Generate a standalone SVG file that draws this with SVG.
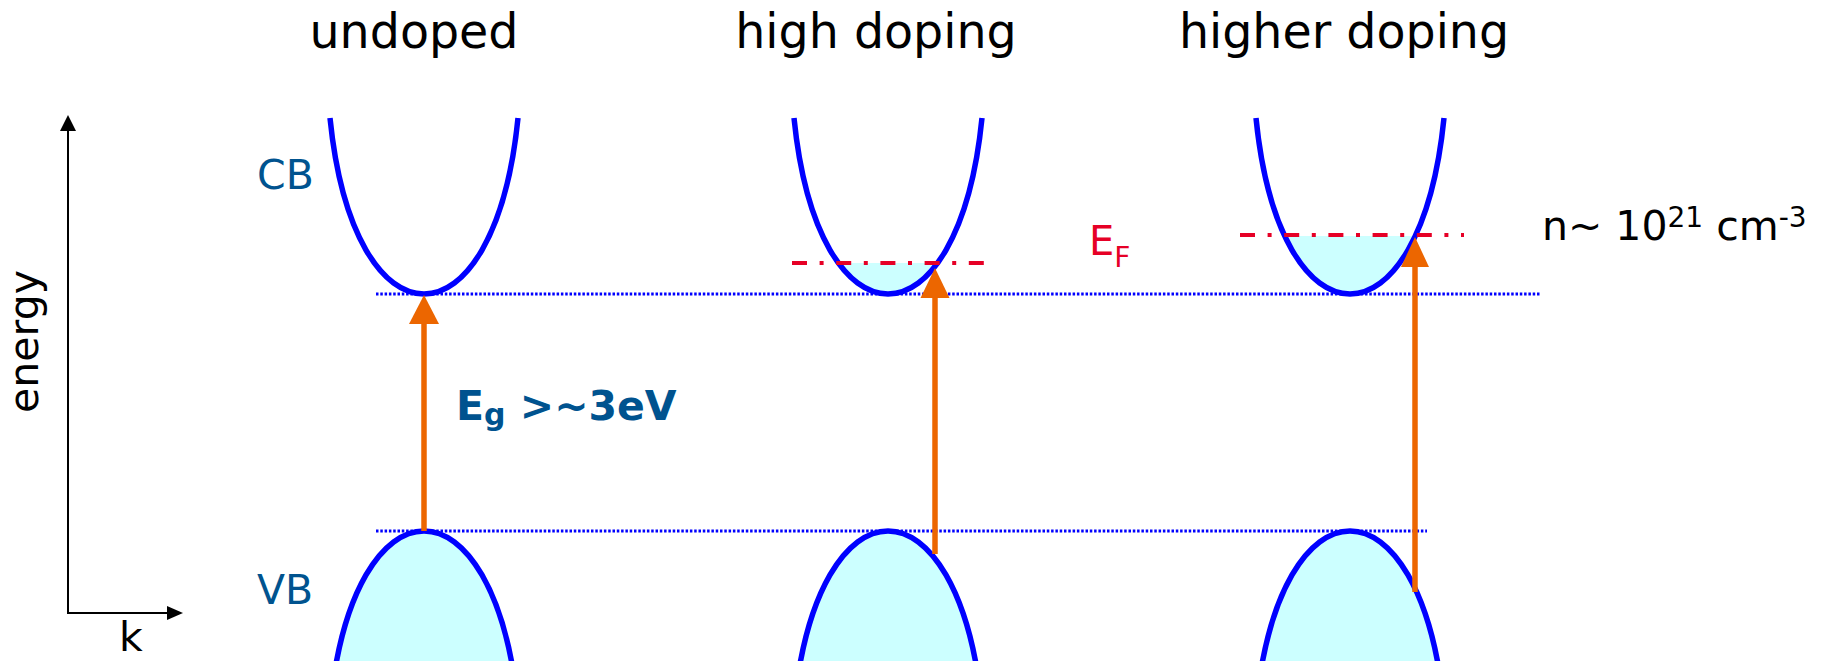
<svg xmlns="http://www.w3.org/2000/svg" width="1828" height="661" viewBox="0 0 1828 661">
<style>
text{font-family:"DejaVu Sans","Liberation Sans",sans-serif}
.title{font-size:47.5px;fill:#000;text-anchor:middle}
.lab{font-size:41px;fill:#00538F}
.band{fill:none;stroke:#0000FF;stroke-width:5.5}
.vb{fill:#CCFFFF;stroke:#0000FF;stroke-width:5.5}
.fill{fill:#CCFFFF;stroke:none}
.ref{stroke:#0000FF;stroke-width:3;stroke-dasharray:2.5 1.8;fill:none}
.ef{stroke:#E60026;stroke-width:4;stroke-dasharray:15 12.6 4 12.6;fill:none}
.arr{stroke:#EC6600;stroke-width:5.5;fill:none}
.head{fill:#EC6600}
.axis{stroke:#000;stroke-width:2;fill:none}
</style>
<defs>
<clipPath id="c2"><rect x="700" y="263" width="400" height="60"/></clipPath>
<clipPath id="c3"><rect x="1150" y="236" width="400" height="90"/></clipPath>
</defs>
<rect width="1828" height="661" fill="#fff"/>

<g id="axes">
<line class="axis" x1="68" y1="613" x2="68" y2="130"/>
<polygon points="68,115 60,131 76,131" fill="#000"/>
<line class="axis" x1="67" y1="613" x2="168" y2="613"/>
<polygon points="183,613 167,606 167,620" fill="#000"/>
<text x="37.5" y="341.5" font-size="41" text-anchor="middle" transform="rotate(-90 37.5 341.5)">energy</text>
<text x="119" y="651" font-size="41">k</text>
</g>

<g id="levels">
<line class="ref" x1="376" y1="294" x2="1540" y2="294"/>
<line class="ref" x1="376" y1="531" x2="1427" y2="531"/>
</g>

<g id="titles">
<text class="title" x="414" y="48">undoped</text>
<text class="title" x="876" y="48">high doping</text>
<text class="title" x="1344" y="48">higher doping</text>
</g>

<g id="undoped">
<path class="band" d="M330 118 C353.6 352.7 494.4 352.7 518 118"/>
<path class="vb" d="M330 707 C353.6 472.3 494.4 472.3 518 707Z"/>
<text class="lab" x="257" y="189">CB</text>
<text class="lab" x="257" y="604">VB</text>
</g>

<g id="high-doping">
<path class="fill" clip-path="url(#c2)" d="M794 118 C817.6 352.7 958.4 352.7 982 118Z"/>
<path class="band" d="M794 118 C817.6 352.7 958.4 352.7 982 118"/>
<path class="vb" d="M794 707 C817.6 472.3 958.4 472.3 982 707Z"/>
<line class="ef" x1="792" y1="263" x2="985" y2="263"/>
<text x="1089" y="255" font-size="40" fill="#E60026">E<tspan font-size="28" dy="11.7">F</tspan></text>
</g>

<g id="higher-doping">
<path class="fill" clip-path="url(#c3)" d="M1256 118 C1279.6 352.7 1420.4 352.7 1444 118Z"/>
<path class="band" d="M1256 118 C1279.6 352.7 1420.4 352.7 1444 118"/>
<path class="vb" d="M1256 707 C1279.6 472.3 1420.4 472.3 1444 707Z"/>
<line class="ef" x1="1240" y1="235" x2="1464" y2="235"/>
<text x="1542" y="240" font-size="41" fill="#000">n~ 10<tspan font-size="28" dy="-12.6">21</tspan><tspan dy="12.6"> cm</tspan><tspan font-size="28" dy="-12.6">-3</tspan></text>
</g>

<g id="connectors">
<line class="arr" x1="424" y1="531" x2="424" y2="322"/>
<polygon class="head" points="424,295 409,324 439,324"/>
<line class="arr" x1="935" y1="554" x2="935" y2="296"/>
<polygon class="head" points="935,268 920.5,298 949.5,298"/>
<line class="arr" x1="1415" y1="592" x2="1415" y2="265"/>
<polygon class="head" points="1415,237 1401,267 1429,267"/>
</g>

<g id="gap-label">
<text x="456" y="420" font-size="41" font-weight="bold" fill="#00538F">E<tspan font-size="30" dy="5">g</tspan><tspan dy="-5"> &gt;~3eV</tspan></text>
</g>
</svg>
